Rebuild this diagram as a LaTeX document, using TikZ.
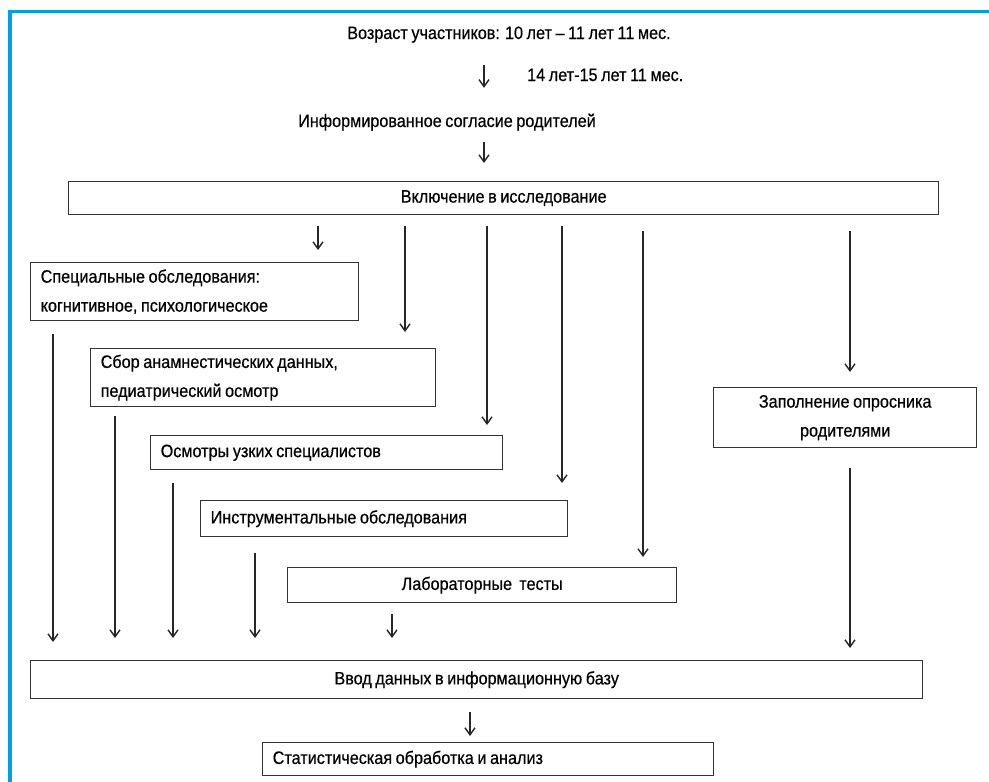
\documentclass[tikz,border=0pt]{standalone}
\usepackage{fontspec}
\setmainfont{Liberation Sans}[FakeStretch=0.9, FakeBold=0.5, WordSpace=0.8]
\usetikzlibrary{arrows.meta}

\definecolor{framecol}{RGB}{0,160,227}

\tikzset{
  box/.style   = {draw=black!80, line width=1.4pt, anchor=north west,
                  inner xsep=10pt, inner ysep=0pt, align=flush left},
  cbox/.style  = {box, align=flush center},
  lbl/.style   = {inner sep=0pt, text height=12pt, text depth=4pt},
  arr/.style   = {-{Straight Barb[length=7pt,width=10pt]}, line width=1.4pt, black!85},
}

\begin{document}
\begin{tikzpicture} [x=1pt, y=-1pt, font=\fontsize{18}{29}\selectfont]
        \useasboundingbox (0,0) rectangle (989,782);
        \draw [framecol, line width=3.5pt] (10,782) -- (10,11.5) -- (989,11.5);

        % header lines
        \node (age) [lbl] at (509,35) {Возраст участников: 10 лет – 11 лет 11 мес.};
        \node (age2) [lbl, anchor=west] at (527,77) {14 лет-15 лет 11 мес.};
        \node (consent) [lbl] at (447,123) {Информированное согласие родителей};

        % boxes
        \node (incl) [cbox, minimum width=870, minimum height=33, text width=850] at (68,181) {Включение в исследование};
        \node (spec) [box, minimum height=58, text width=308] at (30,262) {Специальные обследования:\\когнитивное, психологическое};
        \node (anam) [box, minimum height=58, text width=325] at (90,348) {Сбор анамнестических данных,\\педиатрический осмотр};
        \node (narrow) [box, minimum height=34, text width=332] at (150,435) {Осмотры узких специалистов};
        \node (instr) [box, minimum height=36, text width=347] at (200,500) {Инструментальные обследования};
        \node (lab) [cbox, minimum height=35, text width=369] at (287,567) {Лабораторные\ \ тесты};
        \node (quest) [cbox, minimum height=60, text width=243] at (713,387) {Заполнение опросника\\родителями};
        \node (db) [cbox, minimum height=38, text width=872] at (30,660) {Ввод данных в информационную базу};
        \node (stat) [box, minimum height=33, text width=431] at (262,742) {Статистическая обработка и анализ};

        % arrow columns
        \coordinate (t1) at (484,0);
        \coordinate (a1) at (318,0);
        \coordinate (a2) at (405,0);
        \coordinate (a3) at (487,0);
        \coordinate (a4) at (562,0);
        \coordinate (a5) at (643,0);
        \coordinate (a6) at (850,0);
        \coordinate (b1) at (53,0);
        \coordinate (b2) at (115,0);
        \coordinate (b3) at (173,0);
        \coordinate (b4) at (255,0);
        \coordinate (b5) at (392,0);
        \coordinate (c1) at (470,0);

        \path [arr] (age.south -| t1) edge [shorten <=22pt, shorten >=27pt] (consent.north -| t1);
        \path [arr] (consent.south -| t1) edge [shorten <=11pt, shorten >=18pt] (incl.north -| t1);

        \path [arr] (incl.south -| a1) edge [shorten <=11pt, shorten >=12pt] (spec.north -| a1);
        \path [arr] (incl.south -| a2) edge [shorten <=11pt, shorten >=16pt] (anam.north -| a2);
        \path [arr] (incl.south -| a3) edge [shorten <=11pt, shorten >=10pt] (narrow.north -| a3);
        \path [arr] (incl.south -| a4) edge [shorten <=11pt, shorten >=17pt] (instr.north -| a4);
        \path [arr] (incl.south -| a5) edge [shorten <=16pt, shorten >=10pt] (lab.north -| a5);
        \path [arr] (incl.south -| a6) edge [shorten <=16pt, shorten >=15pt] (quest.north -| a6);

        \path [arr] (spec.south -| b1) edge [shorten <=13pt, shorten >=18pt] (db.north -| b1);
        \path [arr] (anam.south -| b2) edge [shorten <=9pt, shorten >=22pt] (db.north -| b2);
        \path [arr] (narrow.south -| b3) edge [shorten <=13pt, shorten >=22pt] (db.north -| b3);
        \path [arr] (instr.south -| b4) edge [shorten <=16pt, shorten >=22pt] (db.north -| b4);
        \path [arr] (lab.south -| b5) edge [shorten <=11pt, shorten >=22pt] (db.north -| b5);
        \path [arr] (quest.south -| a6) edge [shorten <=20pt, shorten >=12pt] (db.north -| a6);

        \path [arr] (db.south -| c1) edge [shorten <=13pt, shorten >=6pt] (stat.north -| c1);
    \end{tikzpicture}
\end{document}
